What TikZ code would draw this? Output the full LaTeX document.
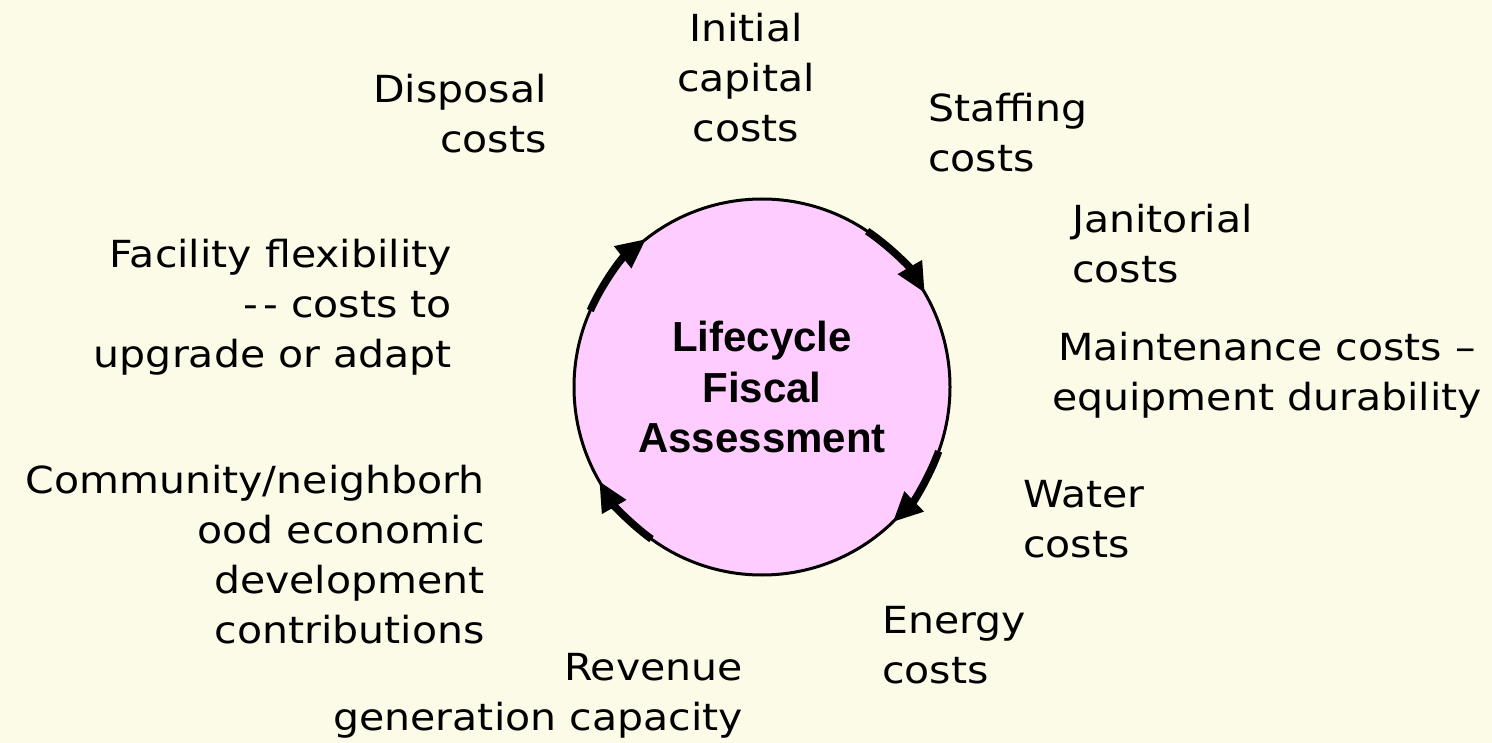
\documentclass[tikz,border=0pt]{standalone}
\usepackage{fontspec}
\setmainfont[FakeStretch=1.1]{DejaVu Sans}
\newfontfamily\arialf{Liberation Sans}
\usetikzlibrary{arrows.meta}
\definecolor{bgc}{RGB}{251,251,231}
\definecolor{pinkc}{RGB}{255,204,255}
\tikzset{
  lbl/.style={inner sep=0pt, font=\fontsize{37.3}{50}\selectfont, text=black},
  hub/.style={circle, draw=black, line width=3pt, fill=pinkc, minimum size=376pt, inner sep=0pt, outer sep=0pt, align=center, font=\arialf\bfseries\fontsize{42}{50.5}\selectfont},
  cyc/.style={line width=7.5pt, -{Triangle[length=30pt,width=26pt]}}
}
\begin{document}
\begin{tikzpicture}[x=1pt,y=1pt]
\useasboundingbox (0,0) rectangle (1492,-743);
\fill[bgc] (0,0) rectangle (1492,-743);

\node[hub] (c) at (762,-387) {Lifecycle\\Fiscal\\Assessment};

\draw[cyc] (c.56) arc[start angle=56, end angle=30, radius=188pt];
\draw[cyc] (c.-20) arc[start angle=-20, end angle=-46, radius=188pt];
\draw[cyc] (c.234) arc[start angle=234, end angle=210, radius=188pt];
\draw[cyc] (c.156) arc[start angle=156, end angle=128, radius=188pt];

\node[lbl, anchor=base, align=center] (initial) at (746,-142) {Initial\\capital\\costs};
\node[lbl, anchor=base east, align=right] (disposal) at (547,-153) {Disposal\\costs};
\node[lbl, anchor=base west, align=left] (staffing) at (928,-172) {Staffing\\costs};
\node[lbl, anchor=base west, align=left] (janitorial) at (1072,-283) {Janitorial\\costs};
\node[lbl, anchor=base, align=center] (maint) at (1267,-410) {Maintenance costs –\\equipment durability};
\node[lbl, anchor=base west, align=left] (water) at (1023,-557) {Water\\costs};
\node[lbl, anchor=base west, align=left] (energy) at (882,-683) {Energy\\costs};
\node[lbl, anchor=base east, align=right] (revenue) at (743,-730) {Revenue\\generation capacity};
\node[lbl, anchor=base east, align=right] (community) at (485,-643) {Community/neighborh\\ood economic\\development\\contributions};
\node[lbl, anchor=base east, align=right] (facility) at (452,-367) {Facility flexibility\\-\kern5pt- costs to\\upgrade or adapt};
\end{tikzpicture}
\end{document}
